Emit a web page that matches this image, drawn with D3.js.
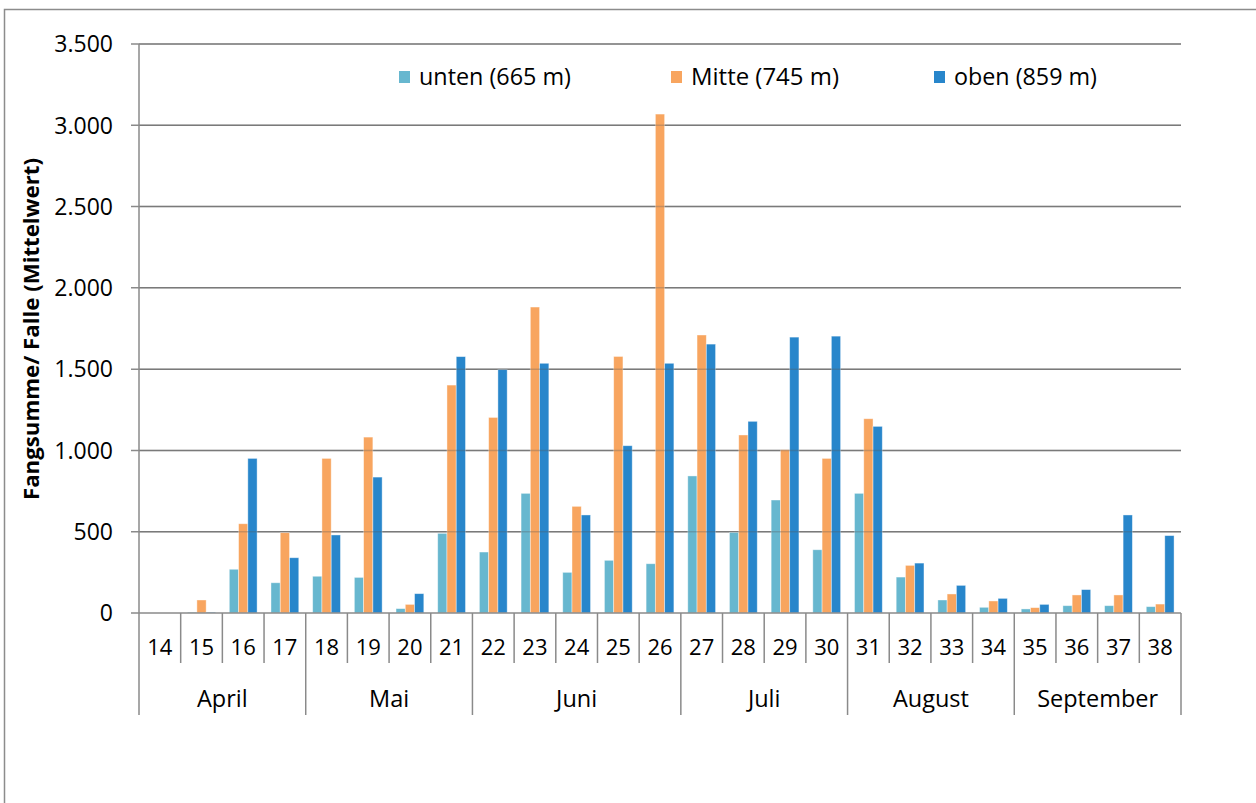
<!DOCTYPE html>
<meta charset="utf-8">
<script src="https://d3js.org/d3.v7.min.js"></script>
<style>
  body { margin: 0; background: #fff; }
  text { font-family: "Open Sans", "Noto Sans", sans-serif; fill: #000; }
</style>
<div id="chart"></div>
<script>
// weeks (KW) and months
const weeks = ["14","15","16","17","18","19","20","21","22","23","24","25","26",
               "27","28","29","30","31","32","33","34","35","36","37","38"];
const months = [
  { name: "April", from: "14", to: "17" },
  { name: "Mai", from: "18", to: "21" },
  { name: "Juni", from: "22", to: "26" },
  { name: "Juli", from: "27", to: "30" },
  { name: "August", from: "31", to: "34" },
  { name: "September", from: "35", to: "38" }
];
const seriesNames = ["unten (665 m)", "Mitte (745 m)", "oben (859 m)"];
const seriesColors = ["#67b7cf", "#f8a55f", "#2886cb"];

const unten = [0, 5, 269, 186, 226, 219, 27, 490, 375, 736, 250, 324, 303,
               843, 496, 695, 389, 736, 221, 80, 35, 25, 45, 45, 39];
const mitte = [0, 80, 549, 494, 951, 1082, 53, 1402, 1203, 1882, 656, 1578, 3069,
               1710, 1095, 1004, 951, 1195, 293, 117, 74, 33, 111, 111, 55];
const oben  = [0, 5, 951, 340, 480, 836, 119, 1577, 1497, 1536, 603, 1029, 1536,
               1654, 1179, 1697, 1703, 1148, 307, 170, 90, 53, 144, 603, 476];
const yTicks = [0, 500, 1000, 1500, 2000, 2500, 3000, 3500];

const W = 1256, H = 803;
const plotL = 139, plotR = 1181, plotT = 44, plotB = 613;

const svg = d3.select("#chart").append("svg")
  .attr("width", W).attr("height", H);

// outer frame
svg.append("rect")
  .attr("x", 4.5).attr("y", 9.5)
  .attr("width", W + 10).attr("height", H + 10)
  .attr("fill", "none").attr("stroke", "#8c8c8c").attr("stroke-width", 1.5);

const x = d3.scaleBand().domain(weeks).range([plotL, plotR]).paddingInner(0).paddingOuter(0);
const y = d3.scaleLinear().domain([0, 3500]).range([plotB, plotT]);

// bars: gap width 150% -> inner group takes 3/(3+1.5)
const groupW = x.bandwidth() * 3 / 4.5;
const xs = d3.scaleBand().domain([0, 1, 2])
  .range([(x.bandwidth() - groupW) / 2, (x.bandwidth() + groupW) / 2]);

// grid
const grid = svg.append("g");
grid.selectAll("line").data(yTicks.filter(d => d > 0)).join("line")
  .attr("x1", plotL - 8).attr("x2", plotR)
  .attr("y1", d => y(d)).attr("y2", d => y(d))
  .attr("stroke", "#8a8a8a").attr("stroke-width", 1.5);

const allSeries = [unten, mitte, oben];
const barG = svg.append("g");
allSeries.forEach((vals, s) => {
  barG.selectAll(".b" + s).data(vals).join("rect")
    .attr("class", "b" + s)
    .attr("x", (d, i) => x(weeks[i]) + xs(s))
    .attr("width", xs.bandwidth())
    .attr("y", d => y(d))
    .attr("height", d => y(0) - y(d))
    .attr("fill", seriesColors[s])
    .attr("stroke", "#fff").attr("stroke-opacity", 0.5).attr("stroke-width", 0.8);
});

// gridlines showing through the bars
svg.append("g").selectAll("line").data(yTicks.filter(d => d > 0)).join("line")
  .attr("x1", plotL).attr("x2", plotR)
  .attr("y1", d => y(d)).attr("y2", d => y(d))
  .attr("stroke", "#555").attr("stroke-opacity", 0.3).attr("stroke-width", 1.5);

// y axis
const yAxis = svg.append("g");
yAxis.append("line")
  .attr("x1", plotL).attr("x2", plotL).attr("y1", plotT).attr("y2", plotB)
  .attr("stroke", "#8a8a8a").attr("stroke-width", 1.5);
yAxis.append("line")
  .attr("x1", plotL - 8).attr("x2", plotL).attr("y1", plotB).attr("y2", plotB)
  .attr("stroke", "#8a8a8a").attr("stroke-width", 1.5);
yAxis.selectAll("text").data(yTicks).join("text")
  .attr("x", 113).attr("y", d => y(d))
  .attr("dy", "0.36em")
  .attr("text-anchor", "end")
  .style("font-size", "23px")
  .text(d => d3.format(",")(d).replace(/,/g, "."));

svg.append("text")
  .attr("transform", "translate(39," + 329 + ") rotate(-90)")
  .attr("text-anchor", "middle")
  .attr("textLength", 342).attr("lengthAdjust", "spacingAndGlyphs")
  .style("font-size", "22px").style("font-weight", "bold")
  .text("Fangsumme/ Falle (Mittelwert)");

// x axis
const xAxis = svg.append("g");
xAxis.append("line")
  .attr("x1", plotL).attr("x2", plotR).attr("y1", plotB).attr("y2", plotB)
  .attr("stroke", "#8a8a8a").attr("stroke-width", 1.5);
const monthStarts = months.map(m => m.from);
xAxis.selectAll(".wsep").data(weeks.filter(w => !monthStarts.includes(w))).join("line")
  .attr("class", "wsep")
  .attr("x1", d => x(d)).attr("x2", d => x(d))
  .attr("y1", plotB).attr("y2", 663)
  .attr("stroke", "#8a8a8a").attr("stroke-width", 1.5);
const monthEdges = months.map(m => x(m.from)).concat([plotR]);
xAxis.selectAll(".msep").data(monthEdges).join("line")
  .attr("class", "msep")
  .attr("x1", d => d).attr("x2", d => d)
  .attr("y1", plotB).attr("y2", 715)
  .attr("stroke", "#8a8a8a").attr("stroke-width", 1.5);
xAxis.selectAll(".wl").data(weeks).join("text")
  .attr("class", "wl")
  .attr("x", d => x(d) + x.bandwidth() / 2).attr("y", 647)
  .attr("dy", "0.36em").attr("text-anchor", "middle")
  .style("font-size", "22px")
  .text(d => d);
xAxis.selectAll(".ml").data(months).join("text")
  .attr("class", "ml")
  .attr("x", m => (x(m.from) + x(m.to) + x.bandwidth()) / 2).attr("y", 699)
  .attr("dy", "0.36em").attr("text-anchor", "middle")
  .style("font-size", "23.5px")
  .text(m => m.name);

// legend
const legendX = [399, 671, 934];
const legendLen = [152, 148, 143];
const legend = svg.append("g");
seriesNames.forEach((n, i) => {
  legend.append("rect")
    .attr("x", legendX[i]).attr("y", 71).attr("width", 11).attr("height", 12)
    .attr("fill", seriesColors[i]);
  legend.append("text")
    .attr("x", legendX[i] + 20).attr("y", 77)
    .attr("dy", "0.36em")
    .attr("textLength", legendLen[i]).attr("lengthAdjust", "spacingAndGlyphs")
    .style("font-size", "23px")
    .text(n);
});
</script>
